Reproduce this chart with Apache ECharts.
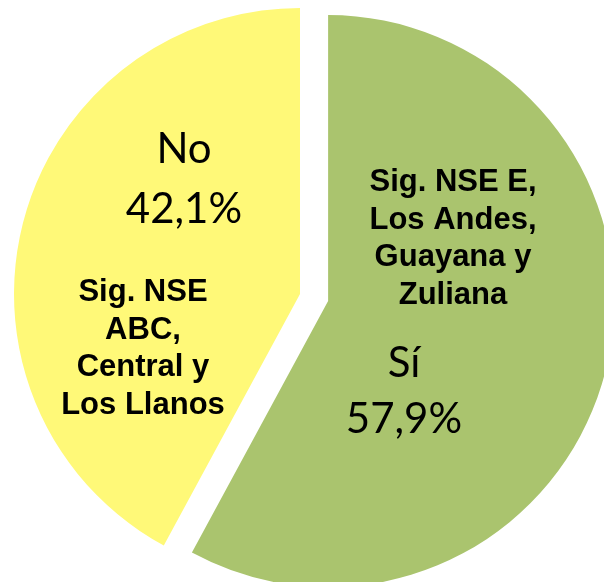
<!DOCTYPE html>
<html>
<head>
<meta charset="utf-8">
<script src="https://cdn.jsdelivr.net/npm/echarts@6/dist/echarts.min.js"></script>
<style>
html,body{margin:0;padding:0;background:#fff;}
#chart{width:604px;height:582px;}
</style>
</head>
<body>
<div id="chart"></div>
<script>
// Data
var categories = ['Sí', 'No'];
var values = [57.9, 42.1];
var colors = ['#AAC46E', '#FFF978'];
var notes = [
  ['Sig. NSE E,', 'Los Andes,', 'Guayana y', 'Zuliana'],
  ['Sig. NSE', 'ABC,', 'Central y', 'Los Llanos']
];

function pct(v) { return v.toFixed(1).replace('.', ',') + '%'; }

var chart = echarts.init(document.getElementById('chart'), null, {renderer: 'canvas'});

var pieData = categories.map(function (c, i) {
  return {
    name: c,
    value: values[i],
    selected: i === 0,
    itemStyle: {color: colors[i]},
    select: {itemStyle: {color: colors[i]}},
    emphasis: {itemStyle: {color: colors[i]}}
  };
});

var labelFont = '42px Lato';
var boldFont = 'bold 31px "Liberation Sans", Arial, sans-serif';

chart.setOption({
  animation: false,
  series: [{
    type: 'pie',
    center: [300, 294],
    radius: 286,
    startAngle: 90,
    clockwise: true,
    selectedMode: 'single',
    selectedOffset: 29,
    label: {show: false},
    labelLine: {show: false},
    emphasis: {disabled: true},
    itemStyle: {borderWidth: 0},
    data: pieData
  }],
  graphic: [
    {type: 'text', silent: true, z: 100, x: 184, y: 179, style: {
      text: categories[1] + '\n' + pct(values[1]), font: labelFont, lineHeight: 60,
      fill: '#000', align: 'center', verticalAlign: 'middle'}},
    {type: 'text', silent: true, z: 100, x: 404, y: 391, style: {
      text: categories[0] + '\n' + pct(values[0]), font: labelFont, lineHeight: 56,
      fill: '#000', align: 'center', verticalAlign: 'middle'}},
    {type: 'text', silent: true, z: 100, x: 453, y: 239, style: {
      text: notes[0].join('\n'), font: boldFont, lineHeight: 37.7,
      fill: '#000', align: 'center', verticalAlign: 'middle'}},
    {type: 'text', silent: true, z: 100, x: 143, y: 349, style: {
      text: notes[1].join('\n'), font: boldFont, lineHeight: 37.7,
      fill: '#000', align: 'center', verticalAlign: 'middle'}}
  ]
});
</script>
</body>
</html>
